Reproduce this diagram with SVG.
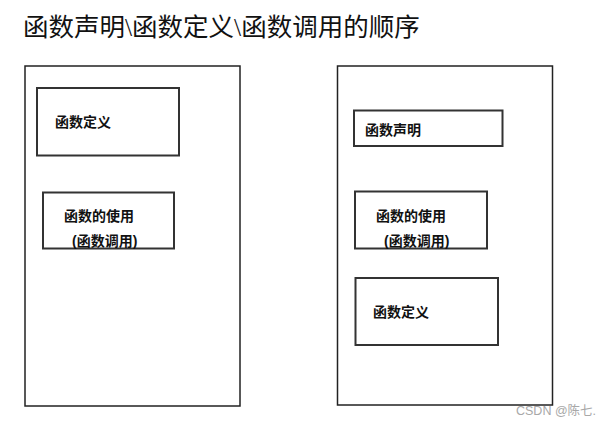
<svg xmlns="http://www.w3.org/2000/svg" width="608" height="426" viewBox="0 0 608 426">
<style>
.outer{fill:#fff;stroke:#222;stroke-width:1.5}
.inner{fill:#fff;stroke:#333;stroke-width:2}
.lbl{font-family:"Liberation Sans","Noto Sans CJK SC",sans-serif;font-size:14px;font-weight:bold;fill:#111}
.title{font-family:"Liberation Serif","Noto Sans CJK SC",serif;font-size:25.5px;fill:#111}
.wm{font-family:"Liberation Sans","Noto Sans CJK SC",sans-serif;font-size:12.5px;fill:#a8a8a8}
</style>
<rect width="608" height="426" fill="#fff"/>
<text class="title" x="23" y="36">函数声明\函数定义\函数调用的顺序</text>
<g id="left-panel">
<rect class="outer" x="25" y="66" width="215" height="340"/>
</g>
<g id="left-def">
<rect class="inner" x="37" y="88" width="142" height="67.5"/>
<text class="lbl" x="55" y="127">函数定义</text>
</g>
<g id="left-use">
<rect class="inner" x="43" y="192.5" width="131" height="56"/>
<text class="lbl" x="64" y="221">函数的使用</text>
<text class="lbl" x="72" y="246">(函数调用)</text>
</g>
<g id="right-panel">
<rect class="outer" x="337.5" y="66" width="215" height="339"/>
</g>
<g id="right-decl">
<rect class="inner" x="354" y="110.5" width="148.5" height="35.5"/>
<text class="lbl" x="365" y="135">函数声明</text>
</g>
<g id="right-use">
<rect class="inner" x="355" y="191.5" width="132" height="57"/>
<text class="lbl" x="376" y="221">函数的使用</text>
<text class="lbl" x="384" y="246">(函数调用)</text>
</g>
<g id="right-def">
<rect class="inner" x="355.5" y="278" width="142.5" height="67"/>
<text class="lbl" x="373" y="317">函数定义</text>
</g>
<g id="connectors"></g>
<text class="wm" x="516" y="415">CSDN @陈七.</text>
</svg>
